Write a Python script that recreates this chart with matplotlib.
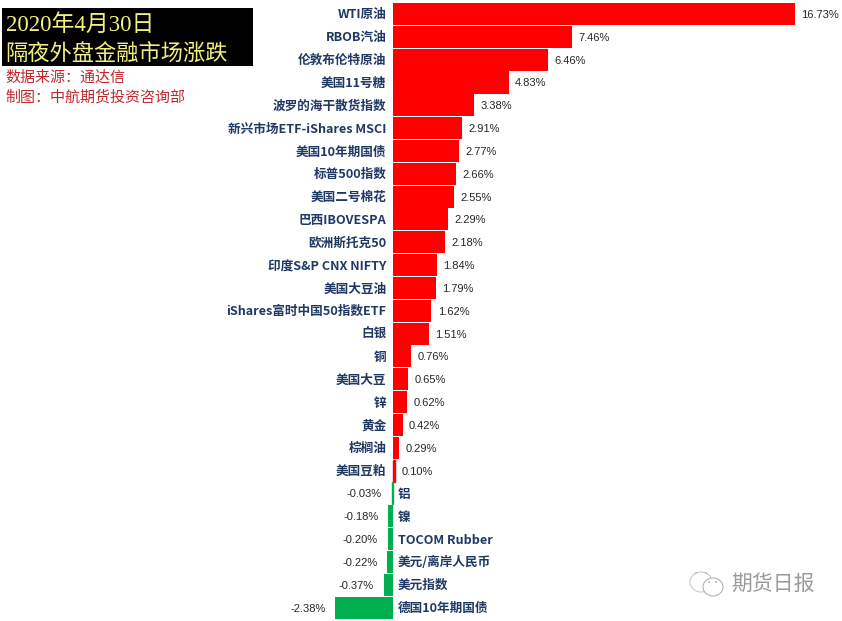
import matplotlib
matplotlib.use('Agg')
import matplotlib.pyplot as plt
from matplotlib.patches import Rectangle, Ellipse
from matplotlib.transforms import Affine2D

plt.rcParams['font.family'] = ['Noto Sans CJK SC', 'DejaVu Sans']

names = ['WTI原油', 'RBOB汽油', '伦敦布伦特原油', '美国11号糖', '波罗的海干散货指数',
         '新兴市场ETF-iShares MSCI', '美国10年期国债', '标普500指数', '美国二号棉花',
         '巴西IBOVESPA', '欧洲斯托克50', '印度S&P CNX NIFTY', '美国大豆油',
         'iShares富时中国50指数ETF', '白银', '铜', '美国大豆', '锌', '黄金', '棕榈油',
         '美国豆粕', '铝', '镍', 'TOCOM Rubber', '美元/离岸人民币', '美元指数',
         '德国10年期国债']
values = [16.73, 7.46, 6.46, 4.83, 3.38, 2.91, 2.77, 2.66, 2.55, 2.29, 2.18, 1.84,
          1.79, 1.62, 1.51, 0.76, 0.65, 0.62, 0.42, 0.29, 0.10, -0.03, -0.18, -0.20,
          -0.22, -0.37, -2.38]

W, H = 842, 621
zero_px = 392.5
px_per_pct = 24.05
first_y = 14.0
row_h = 22.83

fig = plt.figure(figsize=(W / 100, H / 100), dpi=100, facecolor='white')
ax = fig.add_axes([0, 0, 1, 1])
ax.set_xlim(-zero_px / px_per_pct, (W - zero_px) / px_per_pct)
ax.set_ylim((H - first_y) / row_h, -first_y / row_h)
ax.axis('off')

colors = ['#ff0000' if v > 0 else '#00b050' for v in values]
# the smallest bars are still about 2px wide in the original
edges = [1.0 if abs(v) < 0.15 else 0 for v in values]
ax.barh(range(len(values)), values, height=0.965, color=colors, edgecolor=colors, linewidth=edges)

navy = '#1f3864'
for i, (n, v) in enumerate(zip(names, values)):
    pct = '%.2f%%' % v
    if v >= 0:
        ax.annotate(n, (0, i), xytext=(-4.5, -0.7), textcoords='offset points', ha='right',
                    va='center', fontsize=9.1, fontweight='bold', color=navy)
        ax.annotate(pct, (v, i), xytext=(4.6, -0.7), textcoords='offset points', ha='left',
                    va='center', fontsize=8, family='Liberation Sans', color='#262626')
    else:
        ax.annotate(n, (0, i), xytext=(4, -0.7), textcoords='offset points', ha='left',
                    va='center', fontsize=9.1, fontweight='bold', color=navy)
        ax.annotate(pct, (v, i), xytext=(-7, -0.7), textcoords='offset points', ha='right',
                    va='center', fontsize=8, family='Liberation Sans', color='#262626')

# pixel coords for the header and the watermark, y going down
px = Affine2D().scale(1, -1).translate(0, H)
fig.add_artist(Rectangle((2, 8), 251, 58, transform=px, facecolor='black', edgecolor='none'))

serif = ['Liberation Serif', 'Noto Sans CJK SC']
fig.text(6 / W, 1 - 25 / H, '2020年4月30日', family=serif, fontsize=16.5, color='#f4f080', va='center')
fig.text(5.5 / W, 1 - 53 / H, '隔夜外盘金融市场涨跌', fontsize=16, color='#f4f080', va='center')
fig.text(5 / W, 1 - 78 / H, '数据来源：通达信', fontsize=10.8, color='#c0282d', va='center')
fig.text(5 / W, 1 - 97 / H, '制图：中航期货投资咨询部', fontsize=10.8, color='#c0282d', va='center')

grey = '#9a9a9a'
fig.add_artist(Ellipse((701, 582), 22, 20, transform=px, fill=False, edgecolor='#c4c4c4', lw=0.7))
fig.add_artist(Ellipse((713, 587), 20, 18, transform=px, facecolor='white', edgecolor='#aaaaaa', lw=0.7))
for ex, ey in [(696, 573), (706, 573), (709, 582), (716, 582)]:
    fig.add_artist(Ellipse((ex, ey), 2, 2, transform=px, facecolor='#bbbbbb', edgecolor='none'))
fig.text(731 / W, 1 - 584 / H, '期货日报', fontsize=15, color=grey, va='center')

fig.savefig('out.png', dpi=100)
